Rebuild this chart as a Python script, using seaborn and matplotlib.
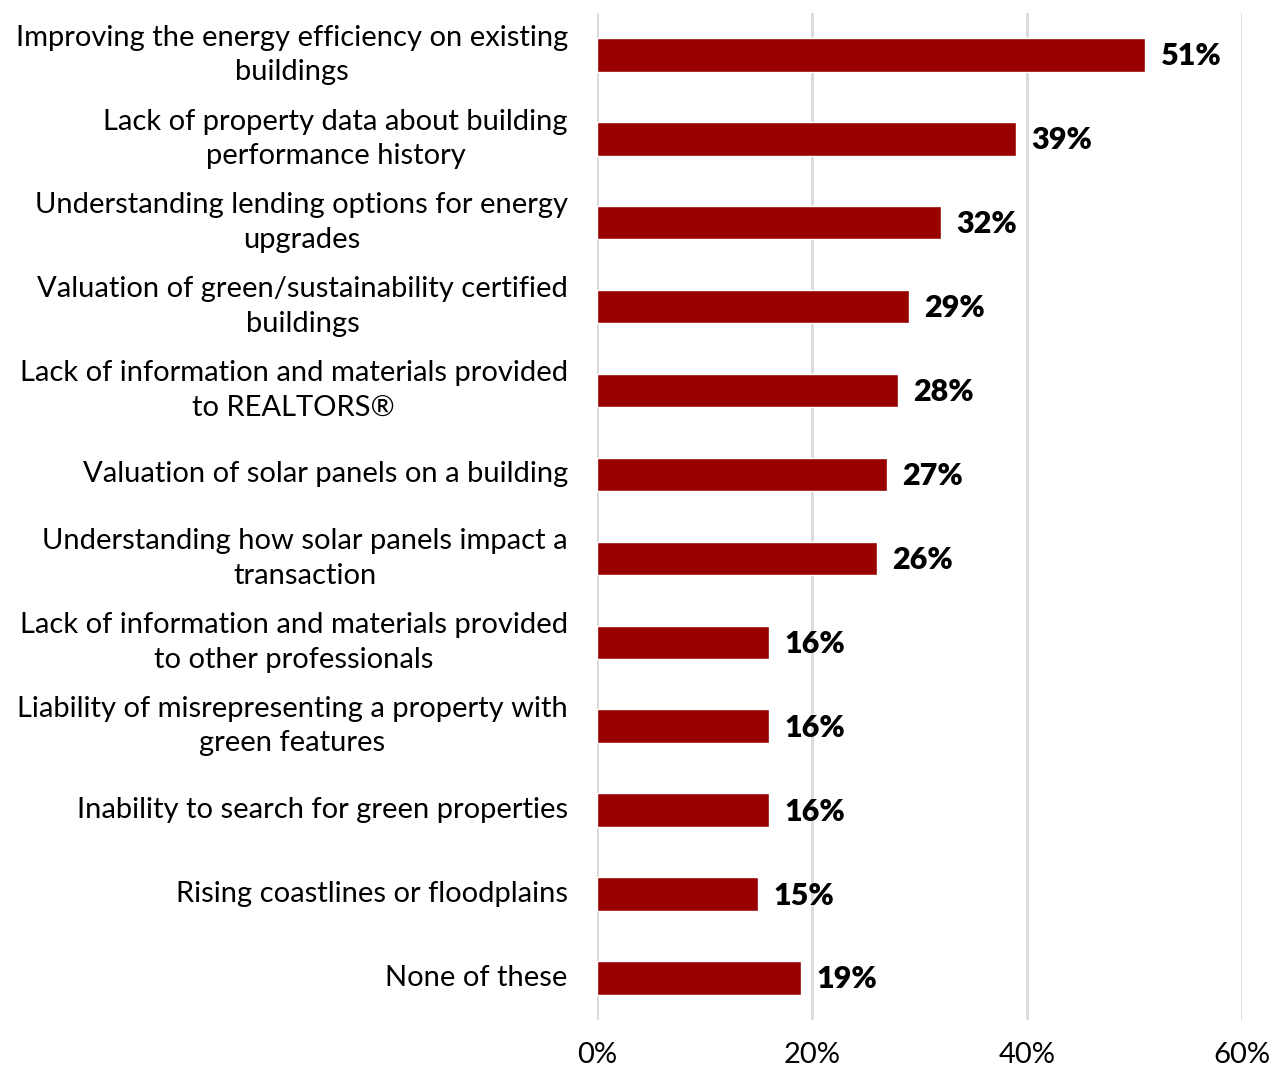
import matplotlib
matplotlib.use("Agg")
import matplotlib.pyplot as plt
import seaborn as sns
import pandas as pd
from matplotlib.ticker import FuncFormatter

categories = [
    "Improving the energy efficiency on existing\nbuildings",
    "Lack of property data about building\nperformance history",
    "Understanding lending options for energy\nupgrades",
    "Valuation of green/sustainability certified\nbuildings",
    "Lack of information and materials provided\nto REALTORS®",
    "Valuation of solar panels on a building",
    "Understanding how solar panels impact a\ntransaction",
    "Lack of information and materials provided\nto other professionals",
    "Liability of misrepresenting a property with\ngreen features",
    "Inability to search for green properties",
    "Rising coastlines or floodplains",
    "None of these",
]
values = [51, 39, 32, 29, 28, 27, 26, 16, 16, 16, 15, 19]
x_ticks = [0, 20, 40, 60]

df = pd.DataFrame({"category": categories, "share": values})

sns.set_theme(style="white")
plt.rcParams["font.family"] = ["Lato", "DejaVu Sans"]

fig = plt.figure(figsize=(12.73, 10.72), dpi=100)
ax = fig.add_axes([0.469, 0.0485, 0.5067, 0.9395])

sns.barplot(data=df, x="share", y="category", color="#990000",
            saturation=1, width=0.4, ax=ax, orient="h")

ax.set_xlim(0, 60)
ax.set_ylim(len(categories) - 0.5, -0.5)
ax.set_xticks(x_ticks)
ax.xaxis.set_major_formatter(FuncFormatter(lambda v, _: f"{v:.0f}%"))
ax.grid(axis="x", color="#d9d9d9", linewidth=2)
ax.set_axisbelow(True)
for s in ax.spines.values():
    s.set_visible(False)
ax.set_xlabel("")
ax.set_ylabel("")
ax.tick_params(axis="x", length=0, labelsize=21, pad=16, colors="black")
ax.tick_params(axis="y", length=0, labelsize=21, pad=21, colors="black")
for lbl in ax.get_yticklabels():
    lbl.set_multialignment("center")
    lbl.set_linespacing(1.4)
    lbl.set_verticalalignment("center")

for i, v in enumerate(values):
    ax.annotate(f"{v}%", xy=(v, i), xytext=(11, -1), textcoords="offset points",
                ha="left", va="center", fontsize=22, fontweight="heavy",
                color="black")

fig.savefig("out.png", dpi=100, facecolor="white")
